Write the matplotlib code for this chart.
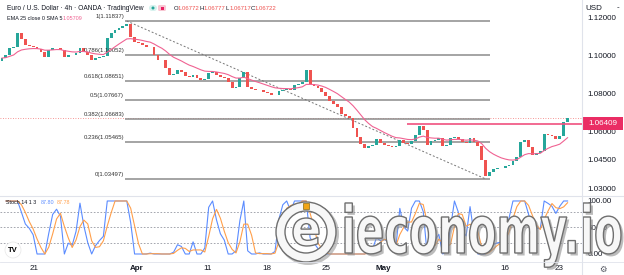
import numpy as np
import pandas as pd
import matplotlib
matplotlib.use("Agg")
import matplotlib.pyplot as plt
from matplotlib.patches import Wedge, Rectangle, PathPatch, Circle, FancyBboxPatch
from matplotlib.textpath import TextPath
from matplotlib.font_manager import FontProperties
from matplotlib.transforms import Affine2D, blended_transform_factory

plt.rcParams['font.family'] = ['Liberation Sans', 'DejaVu Sans']

# EUR/USD, candles (one candle ~ two 4h bars)
first_open = 1.0975
closes = [
    1.0988, 1.1004, 1.1041, 1.1046, 1.1120, 1.1089, 1.1057, 1.1052, 1.1046, 1.1036,
    1.1020, 1.0994, 1.1031, 1.1041, 1.1043, 1.1031, 1.0994, 1.1004, 1.1002, 1.1015,
    1.1041, 1.1020, 1.1004, 1.0978, 1.0988, 1.0994, 1.0999, 1.1094, 1.1120, 1.1136,
    1.1147, 1.1157, 1.1168, 1.1099, 1.1073, 1.1068, 1.1057, 1.1046, 1.1048, 1.1004,
    1.0978, 1.0976, 1.0936, 1.0899, 1.0904, 1.0925, 1.0914, 1.0893, 1.0888, 1.0899,
    1.0883, 1.0872, 1.0878, 1.0909, 1.0914, 1.0899, 1.0888, 1.0883, 1.0862, 1.0830,
    1.0835, 1.0883, 1.0914, 1.0835, 1.0825, 1.0819, 1.0821, 1.0809, 1.0804, 1.0793,
    1.0795, 1.0814, 1.0819, 1.0825, 1.0819, 1.0846, 1.0851, 1.0862, 1.0925, 1.0851,
    1.0841, 1.0830, 1.0809, 1.0788, 1.0761, 1.0746, 1.0730, 1.0693, 1.0682, 1.0672,
    1.0619, 1.0571, 1.0534, 1.0513, 1.0524, 1.0529, 1.0561, 1.0540, 1.0529, 1.0524,
    1.0518, 1.0524, 1.0555, 1.0540, 1.0534, 1.0550, 1.0582, 1.0629, 1.0608, 1.0529,
    1.0550, 1.0555, 1.0566, 1.0524, 1.0529, 1.0566, 1.0571, 1.0561, 1.0545, 1.0540,
    1.0566, 1.0545, 1.0524, 1.0450, 1.0366, 1.0386, 1.0402, 1.0408, 1.0406, 1.0418,
    1.0423, 1.0444, 1.0466, 1.0545, 1.0555, 1.0518, 1.0476, 1.0487, 1.0497, 1.0587,
    1.0582, 1.0576, 1.0561, 1.0576, 1.0650, 1.0672,
]

date_ticks = [8.2, 34.6, 52.8, 68.0, 83.0, 97.7, 112.0, 129.0, 142.8]
date_labels = ['21', 'Apr', '11', '18', '25', 'May', '9', '16', '23']

fib_ratios = [1, 0.786, 0.618, 0.5, 0.382, 0.236, 0]
swing_high, swing_low = 1.11837, 1.03497
swing_high_idx, swing_low_idx = 32, 124
resistance = 1.06409

price_ticks = [1.03, 1.045, 1.06, 1.08, 1.10, 1.12]
stoch_ticks = [0, 50, 100]

GREEN, RED = '#26a69a', '#ef5350'
TXT = '#131722'

c = np.array(closes)
o = np.r_[first_open, c[:-1]]
hi = np.maximum(o, c)
lo = np.minimum(o, c)
idx = np.arange(len(c))

ema = pd.Series(c).ewm(span=13, adjust=False).mean()
hh = pd.Series(hi).rolling(7, min_periods=2).max()
ll = pd.Series(lo).rolling(7, min_periods=2).min()
k = 100 * (pd.Series(c) - ll) / (hh - ll)
d = k.rolling(3, min_periods=1).mean()

W, H = 624, 275
fig = plt.figure(figsize=(W / 100, H / 100), dpi=100)
fig.patch.set_facecolor('white')

ax = fig.add_axes([0, 1 - 196 / H, 582 / W, 196 / H])
ax2 = fig.add_axes([0, 13 / H, 582 / W, 66 / H])
for a in (ax, ax2):
    for s in a.spines.values():
        s.set_visible(False)
    a.set_xlim(-0.5, 148.7)
    a.yaxis.tick_right()
    a.tick_params(axis='y', length=0, pad=4, labelsize=5.8, labelcolor=TXT)

# --- price panel
ax.set_ylim(1.02597, 1.12946)
ax.set_xticks([])
ax.set_yticks(price_ticks, [f'{p:.5f}' for p in price_ticks])

body = np.where(np.abs(c - o) < 0.00015, 0.00015, c - o)
ax.bar(idx, body, bottom=o, width=0.72, color=np.where(c >= o, GREEN, RED),
       linewidth=0, zorder=3)
ax.plot(idx, ema, color='#f06292', lw=0.8, zorder=4)

levels = [swing_low + r * (swing_high - swing_low) for r in fib_ratios]
ax.hlines(levels, 31.5, 125.2, color='#8c8c8c', lw=1.1, zorder=2)
for r, lvl in zip(fib_ratios, levels):
    ax.annotate(f'{r:g}({lvl:.5f})', xy=(31.3, lvl), xytext=(0, 1.5),
                textcoords='offset points', ha='right', va='bottom',
                fontsize=4.3, color='#333333')
ax.plot([swing_high_idx, swing_low_idx], [swing_high, swing_low],
        ls=(0, (2, 2)), color='#777777', lw=0.7, zorder=2)

ax.axhline(c[-1], color=RED, ls=(0, (1, 2)), lw=0.6, alpha=0.8, zorder=1)
ax.hlines(resistance, 103.8, 148.7, color='#f0507f', lw=1.2, zorder=5)
tr = blended_transform_factory(ax.transAxes, ax.transData)
ax.add_patch(Rectangle((1.0, resistance - 0.0034), 41 / 582, 0.0068,
                       transform=tr, fc='#ea2d64', ec='none', clip_on=False, zorder=6))
ax.text(1 + 20.5 / 582, resistance, f'{resistance:.5f}', transform=tr,
        ha='center', va='center', color='white', fontsize=5.8, zorder=7)

# --- stochastic panel
ax2.set_ylim(-15.1, 109.4)
ax2.set_yticks(stoch_ticks, [f'{v:.2f}' for v in stoch_ticks])
for lvl in (80, 50, 20):
    ax2.axhline(lvl, color='#9598a1', ls=(0, (2, 2)), lw=0.6)
ax2.plot(idx, k, color='#5b8cff', lw=0.8)
ax2.plot(idx, d, color='#ff9f4a', lw=0.8)
ax2.set_xticks(date_ticks, date_labels)
ax2.tick_params(axis='x', length=0, pad=2, labelsize=5.8, labelcolor=TXT)
for lab in ax2.get_xticklabels():
    if lab.get_text() in ('Apr', 'May'):
        lab.set_fontweight('bold')

# --- overlay in pixel coordinates
ov = fig.add_axes([0, 0, 1, 1], zorder=10)
ov.set_xlim(0, W)
ov.set_ylim(H, 0)
ov.axis('off')
ov.patch.set_alpha(0)

ov.plot([582, 582], [0, H], color='#e0e3eb', lw=0.8)
ov.plot([0, W], [196, 196], color='#e0e3eb', lw=0.8)
ov.plot([0, W], [262, 262], color='#e0e3eb', lw=0.6)

ov.text(7, 8, 'Euro / U.S. Dollar · 4h · OANDA · TradingView', fontsize=4.8,
        color=TXT, va='center')
ov.add_patch(FancyBboxPatch((149, 5), 8, 6, boxstyle='round,pad=0,rounding_size=3',
                            fc='#d7f2ee', ec='none'))
ov.add_patch(Circle((153, 8), 1.5, fc=GREEN, ec='none'))
ov.add_patch(FancyBboxPatch((158, 5), 8, 6, boxstyle='round,pad=0,rounding_size=1.5',
                            fc='#f8c7d3', ec='none'))
ov.add_patch(Rectangle((160.5, 6.5), 3, 3, fc='#e91e63', ec='none'))
for x0, letter, val in [(174, 'O', '1.06772'), (200, 'H', '1.06777'),
                        (226, 'L', '1.06717'), (251, 'C', '1.06722')]:
    ov.text(x0, 8, letter, fontsize=4.3, color=TXT, va='center')
    ov.text(x0 + 3.5, 8, val, fontsize=4.3, color=RED, va='center')
ov.text(7, 19, 'EMA 25 close 0 SMA 5', fontsize=3.9, color=TXT, va='center')
ov.text(63, 19, '1.05709', fontsize=3.9, color='#f06292', va='center')
ov.text(6, 203, 'Stoch 14 1 3', fontsize=3.9, color=TXT, va='center')
ov.text(41, 203, '87.80', fontsize=3.9, color='#5b8cff', va='center')
ov.text(57, 203, '87.78', fontsize=3.9, color='#ff9f4a', va='center')
ov.text(585, 8, 'USD', fontsize=5.8, color=TXT, va='center')
ov.text(617, 8, '-', fontsize=5.8, color=TXT, va='center')
ov.text(603, 269, '⚙', fontsize=6, color='#50535e', ha='center', va='center',
        family='DejaVu Sans')
ov.add_patch(Circle((13, 250), 8, fc='white', ec='#e6e6e6', lw=0.5))
ov.text(13, 250, 'TV', fontsize=5.5, fontweight='bold', color='black',
        ha='center', va='center')

# watermark
fp = FontProperties(family='DejaVu Sans', weight='bold')
tp = TextPath((0, 0), 'ieconomy.io', size=1, prop=fp)
ext = tp.get_extents()
xh = TextPath((0, 0), 'x', size=1, prop=fp).get_extents().height
t = Affine2D().translate(-ext.x0, 0).scale(276 / ext.width, -36 / xh).translate(345, 253)
wm = t.transform_path(tp)
ov.add_patch(PathPatch(Affine2D().translate(2.5, 2.5).transform_path(wm),
                       fc='#8f8f8f', ec='none', alpha=0.6))
ov.add_patch(PathPatch(wm, fc='#f7f7f7', ec='#6f6f6f', lw=1.0))

ov.add_patch(Wedge((308, 234), 31, 0, 360, width=3, fc='#9a9a9a', ec='none', alpha=0.6))
ov.add_patch(Wedge((306, 232), 30, 0, 360, width=9, fc='#f7f7f7', ec='#6f6f6f', lw=1.0))
te = TextPath((0, 0), 'e', size=1, prop=fp)
ee = te.get_extents()
te_t = Affine2D().translate(-(ee.x0 + ee.width / 2), -(ee.y0 + ee.height / 2)) \
    .scale(26 / ee.width, -28 / ee.height).translate(306, 232)
ov.add_patch(PathPatch(te_t.transform_path(te), fc='#f7f7f7', ec='#6f6f6f', lw=1.0))
ov.add_patch(Rectangle((303, 203), 6, 6, fc='#f2a516', ec='#8a6a10', lw=0.5))

fig.savefig('out.png', dpi=100)
